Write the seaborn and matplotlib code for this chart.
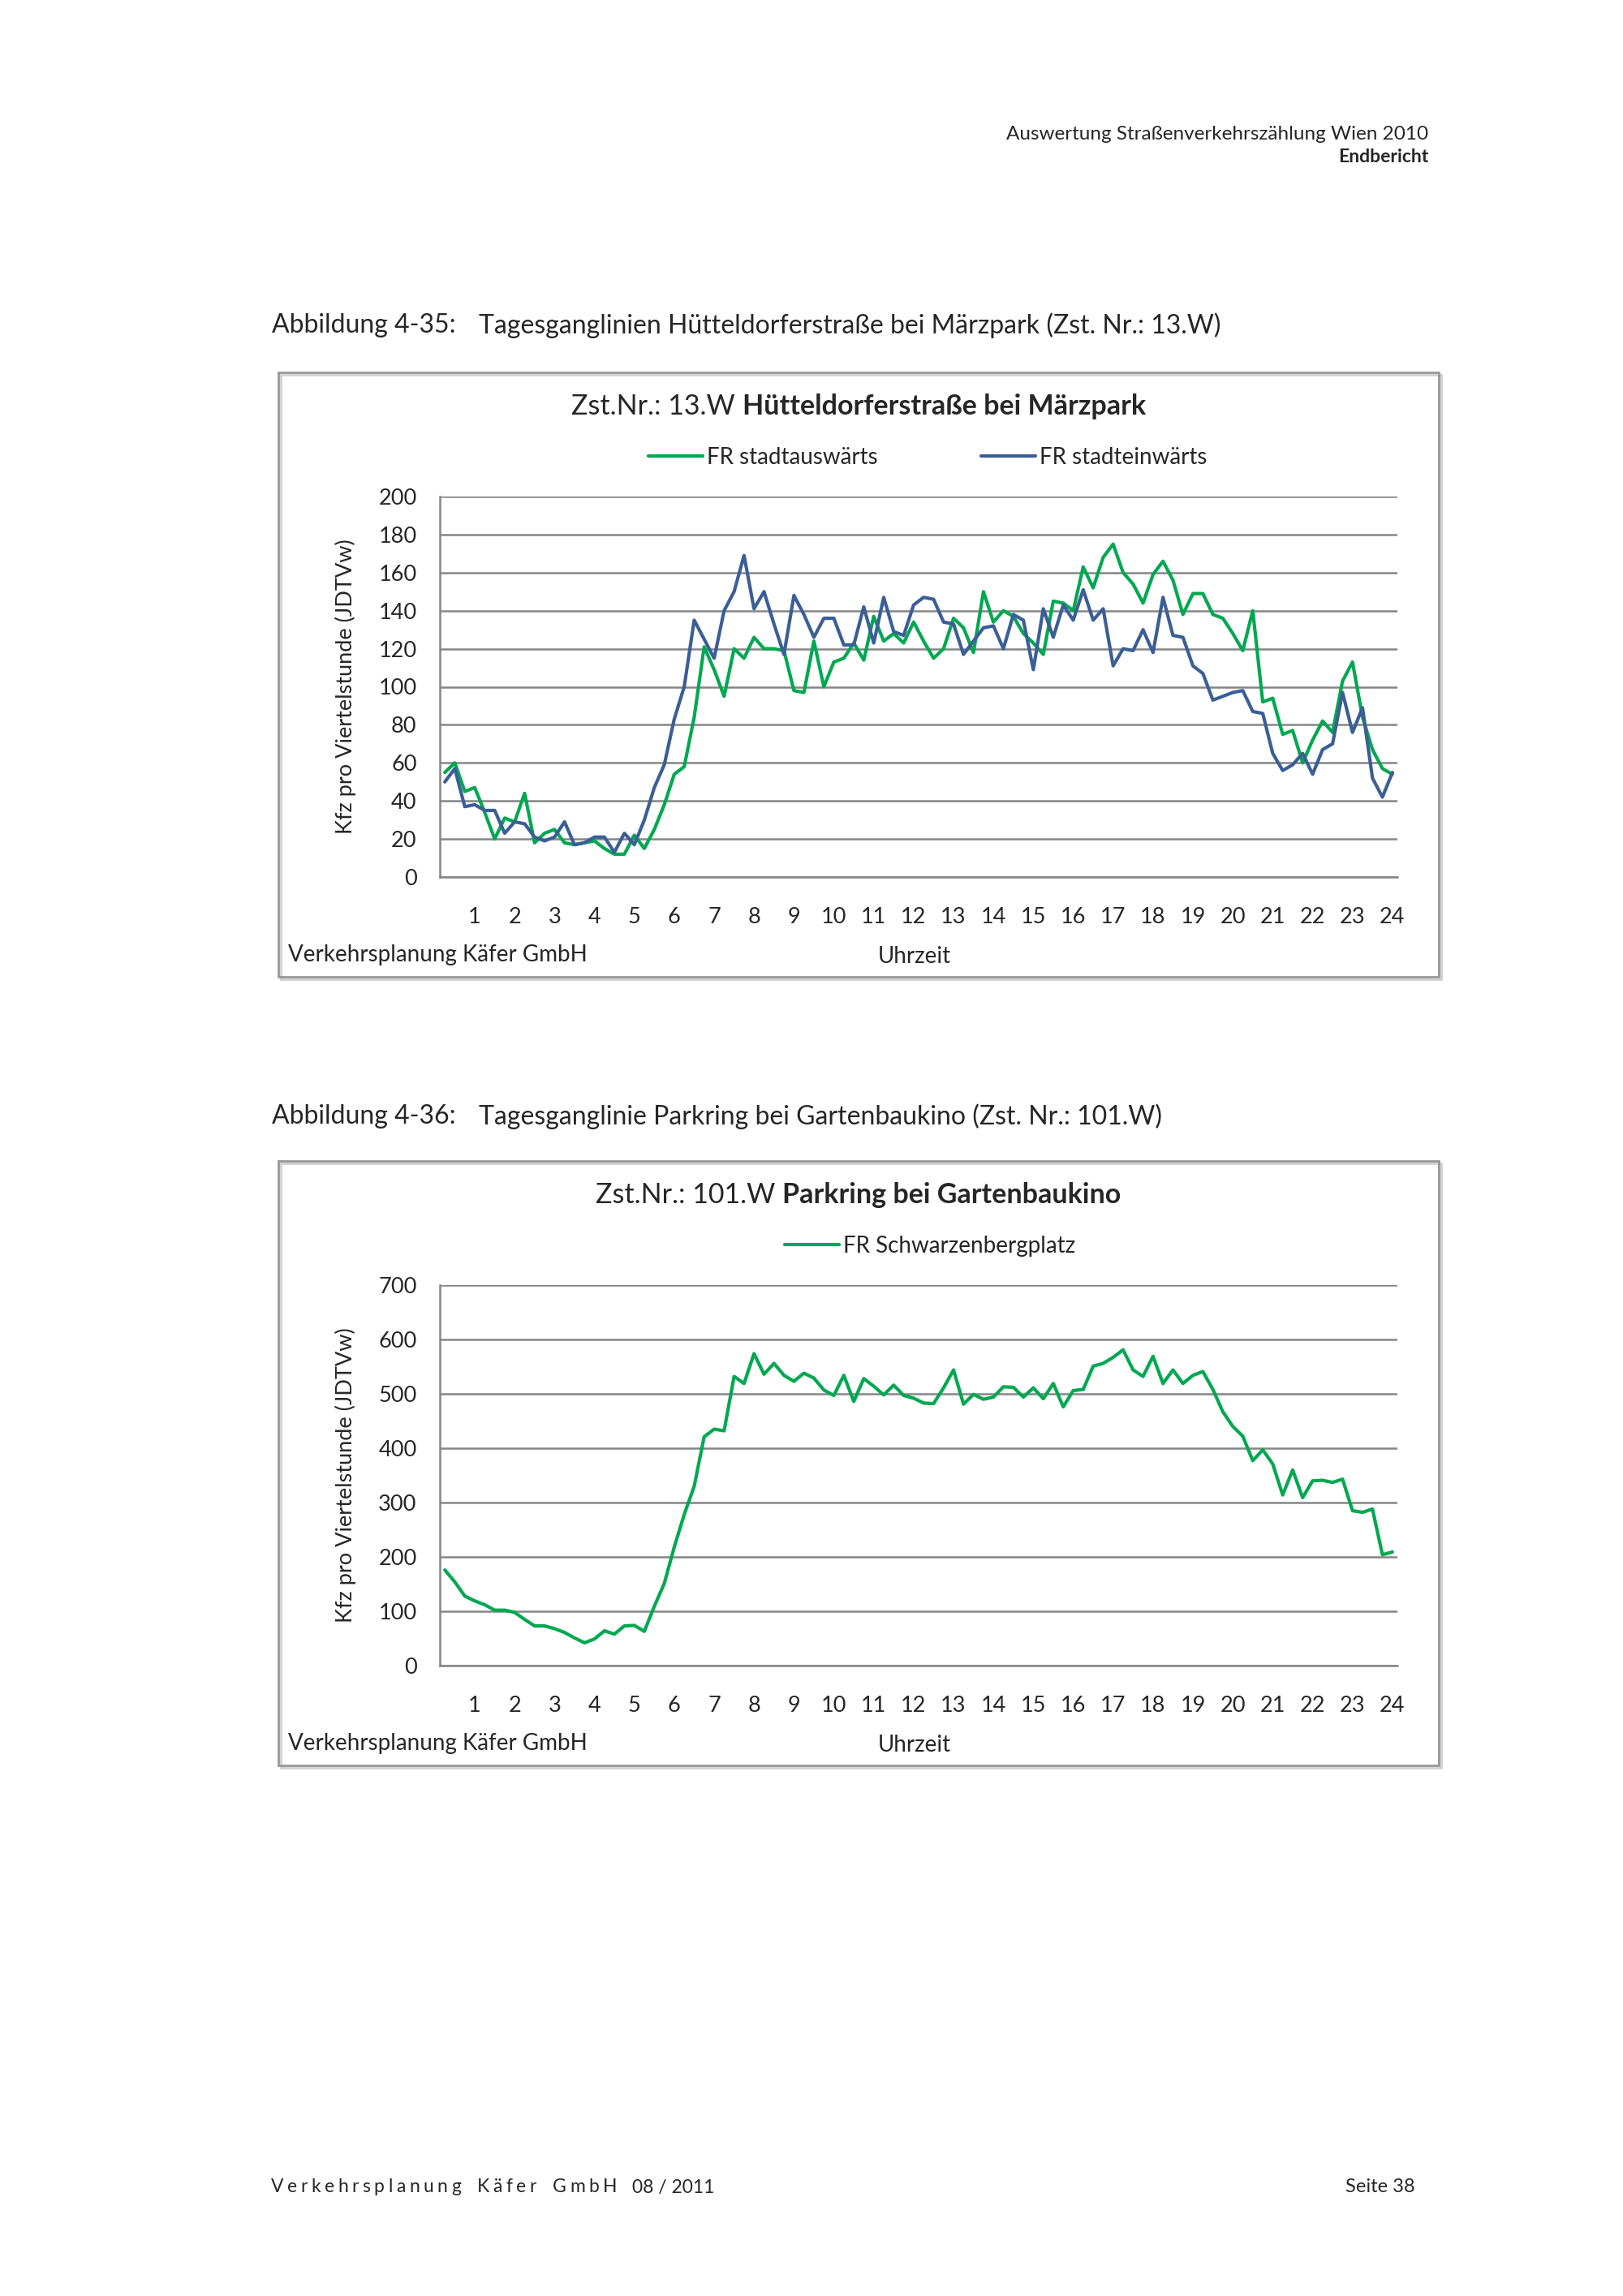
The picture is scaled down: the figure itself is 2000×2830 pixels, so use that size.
import numpy as np
import pandas as pd
import matplotlib
matplotlib.use("Agg")
import matplotlib.pyplot as plt
import seaborn as sns
from matplotlib.patches import Rectangle

# quarter-hour values (96 per day)
hour_labels = [str(h) for h in range(1, 25)]

stadtauswaerts_13w = [
    55, 60, 45, 47, 34, 20, 31, 29, 44, 18,
    23, 25, 18, 17, 18, 19, 15, 12, 12, 22,
    15, 25, 38, 54, 58, 84, 121, 109, 95, 120,
    115, 126, 120, 120, 119, 98, 97, 124, 100, 113,
    115, 123, 114, 137, 124, 128, 123, 134, 124, 115,
    120, 136, 131, 118, 150, 134, 140, 137, 128, 123,
    117, 145, 144, 140, 163, 152, 168, 175, 160, 154,
    144, 159, 166, 156, 138, 149, 149, 138, 136, 128,
    119, 140, 92, 94, 75, 77, 60, 72, 82, 76,
    103, 113, 84, 67, 57, 54,
]
stadteinwaerts_13w = [
    50, 57, 37, 38, 35, 35, 23, 29, 28, 21,
    19, 21, 29, 17, 18, 21, 21, 13, 23, 17,
    30, 47, 59, 83, 100, 135, 125, 115, 140, 150,
    169, 141, 150, 133, 117, 148, 138, 126, 136, 136,
    122, 122, 142, 123, 147, 129, 127, 143, 147, 146,
    134, 133, 117, 124, 131, 132, 120, 138, 135, 109,
    141, 126, 143, 135, 151, 135, 141, 111, 120, 119,
    130, 118, 147, 127, 126, 111, 107, 93, 95, 97,
    98, 87, 86, 65, 56, 59, 65, 54, 67, 70,
    97, 76, 89, 52, 42, 55,
]
schwarzenbergplatz_101w = [
    176, 154, 128, 119, 112, 102, 102, 98, 85, 73,
    73, 68, 61, 51, 42, 49, 64, 58, 73, 74,
    63, 109, 151, 218, 278, 330, 421, 435, 432, 532,
    519, 574, 536, 556, 534, 523, 538, 529, 507, 497,
    534, 486, 528, 514, 498, 516, 497, 492, 483, 482,
    511, 544, 481, 499, 490, 494, 513, 512, 494, 511,
    491, 519, 476, 506, 508, 551, 556, 567, 581, 544,
    532, 569, 519, 544, 519, 534, 541, 508, 467, 440,
    422, 377, 397, 371, 314, 360, 309, 340, 341, 337,
    343, 285, 282, 288, 204, 209,
]
quarter = np.arange(96)

sns.set_style("white")
plt.rcParams["font.family"] = ["Lato", "DejaVu Sans"]

W, H = 2000, 2830
fig = plt.figure(figsize=(20, 28.3), dpi=100)


def fx(px):
    return px / W


def fy(py):
    return 1 - py / H


GREEN = "#00a850"
BLUE = "#3b5e96"
GRID = "#868686"
renderer = fig.canvas.get_renderer()

AX_L, AX_R = 542, 1722
FR_L, FR_R = 343, 1773


def frame(top, bottom):
    fig.patches.append(Rectangle((fx(FR_L + 3), fy(bottom + 3)), fx(FR_R) - fx(FR_L),
                                 fy(top) - fy(bottom), transform=fig.transFigure,
                                 fill=False, edgecolor="#d0d0d0", lw=2))
    fig.patches.append(Rectangle((fx(FR_L), fy(bottom)), fx(FR_R) - fx(FR_L),
                                 fy(top) - fy(bottom), transform=fig.transFigure,
                                 fill=False, edgecolor="#979797", lw=2))


def title(y, normal, bold, center=1058, size=24.5):
    t1 = fig.text(0, fy(y), normal, fontsize=size, va="center")
    t2 = fig.text(0, fy(y), bold, fontsize=size, fontweight="bold", va="center")
    w1 = t1.get_window_extent(renderer).width
    w2 = t2.get_window_extent(renderer).width
    left = center - (w1 + w2) / 2
    t1.set_x(fx(left))
    t2.set_x(fx(left + w1))


def tracked(x, y, s, size, spacing):
    # text drawn letter by letter with extra tracking, like the page footer
    for ch in s:
        t = fig.text(fx(x), fy(y), ch, fontsize=size, va="center")
        x += t.get_window_extent(renderer).width + spacing
        if ch == " ":
            x += size * 0.3
    return x


def chart(top, bottom, series, ymax, ystep, legend_x, legend_y):
    ax = fig.add_axes([fx(AX_L), fy(bottom), fx(AX_R) - fx(AX_L), fy(top) - fy(bottom)])
    for name, vals, col in series:
        sns.lineplot(x=quarter, y=vals, ax=ax, color=col, linewidth=3.0, label=name)
    ax.set_xlim(-0.5, 95.5)
    ax.set_ylim(0, ymax)
    ax.set_yticks(range(0, ymax + 1, ystep))
    ax.set_xticks(np.arange(3, 96, 4))
    ax.set_xticklabels(hour_labels)
    ax.set_xticks(np.arange(-0.5, 96, 1), minor=True)
    ax.tick_params(axis="x", which="major", length=0, pad=27, labelsize=19.5)
    ax.tick_params(axis="x", which="minor", length=6.5, width=1.5, color=GRID, direction="out")
    ax.tick_params(axis="y", length=6.5, width=1.5, color=GRID, labelsize=19.5, pad=14)
    ax.yaxis.grid(True, color=GRID, lw=1.8)
    ax.xaxis.grid(False)
    ax.set_axisbelow(True)
    for s in ["top", "right"]:
        ax.spines[s].set_visible(False)
    for s in ["left", "bottom"]:
        ax.spines[s].set_color(GRID)
        ax.spines[s].set_linewidth(1.8)
    ax.set_xlabel("")
    ax.set_ylabel("")
    ax.legend(loc="center left", bbox_to_anchor=(fx(legend_x), fy(legend_y)),
              bbox_transform=fig.transFigure, ncol=2, frameon=False, fontsize=20,
              handlelength=2.4, handletextpad=0.18, columnspacing=4.6,
              borderpad=0, borderaxespad=0)
    fig.text(fx(426), fy((top + bottom) / 2), "Kfz pro Viertelstunde (JDTVw)",
             rotation=90, ha="center", va="center", fontsize=19.5)
    fig.text(fx(355), fy(bottom + 96), "Verkehrsplanung Käfer GmbH", va="center", fontsize=20)
    fig.text(fx(1127), fy(bottom + 98), "Uhrzeit", ha="center", va="center", fontsize=20)
    return ax


# page header
fig.text(fx(1760), fy(165), "Auswertung Straßenverkehrszählung Wien 2010",
         ha="right", va="center", fontsize=17.5)
fig.text(fx(1760), fy(193), "Endbericht", ha="right", va="center",
         fontsize=16.5, fontweight="bold")

# figure 4-35
fig.text(fx(335), fy(401), "Abbildung 4-35:", va="center", fontsize=23)
fig.text(fx(590), fy(401), "Tagesganglinien Hütteldorferstraße bei Märzpark (Zst. Nr.: 13.W)",
         va="center", fontsize=23)
frame(459, 1204)
title(501, "Zst.Nr.: 13.W ", "Hütteldorferstraße bei Märzpark")
chart(612, 1081,
      [("FR stadtauswärts", stadtauswaerts_13w, GREEN),
       ("FR stadteinwärts", stadteinwaerts_13w, BLUE)],
      200, 20, 799, 564)

# figure 4-36
fig.text(fx(335), fy(1376), "Abbildung 4-36:", va="center", fontsize=23)
fig.text(fx(590), fy(1376), "Tagesganglinie Parkring bei Gartenbaukino (Zst. Nr.: 101.W)",
         va="center", fontsize=23)
frame(1431, 2176)
title(1473, "Zst.Nr.: 101.W ", "Parkring bei Gartenbaukino")
chart(1584, 2053,
      [("FR Schwarzenbergplatz", schwarzenbergplatz_101w, GREEN)],
      700, 100, 967, 1536)

# footer
x_end = tracked(334, 2696, "Verkehrsplanung Käfer GmbH", 16.5, 4.5)
fig.text(fx(x_end + 14), fy(2696), "08 / 2011", va="center", fontsize=16.5)
fig.text(fx(1744), fy(2696), "Seite 38", ha="right", va="center", fontsize=17)

fig.savefig("out.png", dpi=100, facecolor="white")
